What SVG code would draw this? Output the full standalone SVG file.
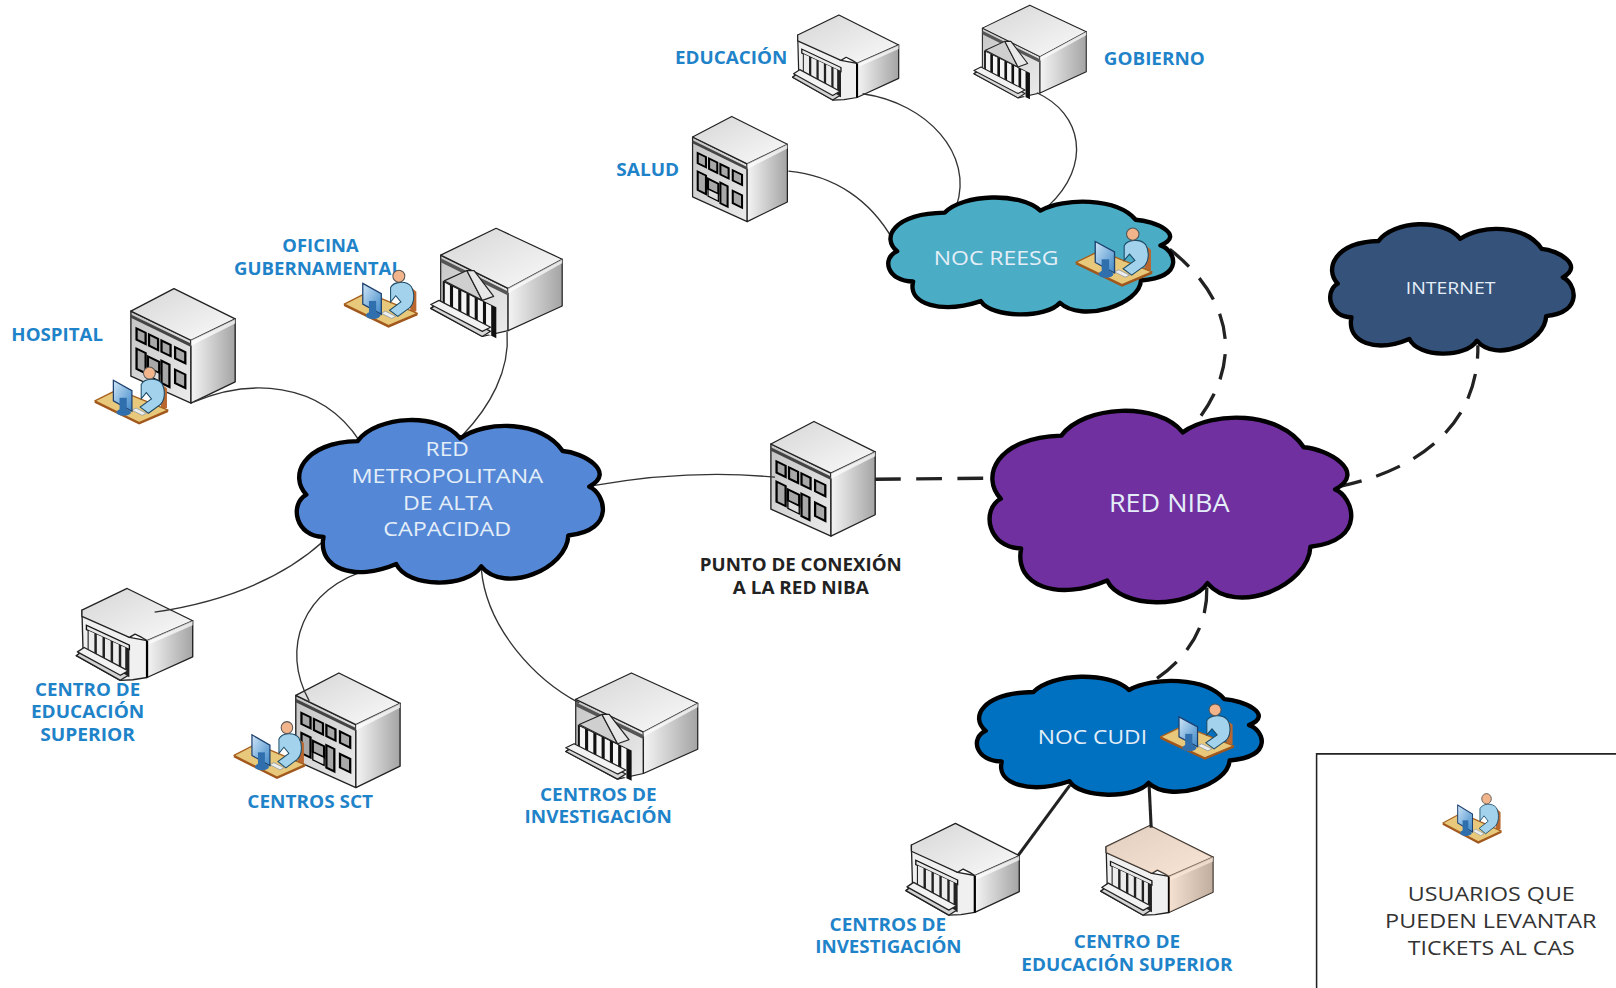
<svg xmlns="http://www.w3.org/2000/svg" width="1616" height="988" viewBox="0 0 1616 988">
<style>
.lbl{font-family:"Open Sans","Liberation Sans",sans-serif;font-weight:700;font-size:17px;fill:#1f83c9}
.blk{fill:#222}
.cl{font-family:"Open Sans","Liberation Sans",sans-serif;font-size:20px;fill:#e4eef8}
.leg{font-family:"Open Sans","Liberation Sans",sans-serif;font-size:20px;fill:#333}
.cloud{stroke:#000;stroke-width:4.4;stroke-linejoin:round}
.thin{fill:none;stroke:#333;stroke-width:1.3}
.dash{fill:none;stroke:#222;stroke-width:3.2;stroke-dasharray:25 15}
.solid{fill:none;stroke:#222;stroke-width:3}
.e{stroke:#222;stroke-width:1.2;stroke-linejoin:round}
</style>
<defs>
<linearGradient id="roof" x1="0" y1="0" x2="1" y2="1"><stop offset="0" stop-color="#d6d6d6"/><stop offset="1" stop-color="#fafafa"/></linearGradient>
<linearGradient id="side" x1="0" y1="0" x2="1" y2="0"><stop offset="0" stop-color="#f4f4f4"/><stop offset="1" stop-color="#a4a4a4"/></linearGradient>
<linearGradient id="front" x1="0" y1="0" x2="1" y2="1"><stop offset="0" stop-color="#c4c4c4"/><stop offset="1" stop-color="#ececec"/></linearGradient>
<linearGradient id="mon" x1="0" y1="0" x2="1" y2="1"><stop offset="0" stop-color="#cfe6f7"/><stop offset="1" stop-color="#3f88c8"/></linearGradient>
<path id="cloud" vector-effect="non-scaling-stroke" d="M20.9,13 C27,-3 47,-5 53.8,11.3 C62,0 80,0 86.6,19.1 C93,20 104,32 95.1,41.2 C100,45 104,68 88.4,71.3 C88,92 68,108 60.5,90.4 C56,104 37,104 33.3,89 C20,100 8,92 10,72.2 C1,72 -1,52 4.5,46.1 C-1,35 3,14 20.9,13 Z"/>
<g id="office">
<polygon class="e" points="0,20 53,46 53,102 0,78" fill="url(#front)"/>
<polygon class="e" points="53,46 92,27 92,83 53,102" fill="url(#side)"/>
<polygon class="e" points="0,20 38,0 92,27 53,46" fill="url(#roof)"/>
<polygon points="53,46 92,27 92,31 53,51" fill="#fff" opacity=".7"/>
<g transform="matrix(1,.49,0,1,0,20)">
<rect x="0" y="3" width="53" height="3" fill="#444"/>
<g fill="#a8a8a8" stroke="#000" stroke-width="2">
<rect x="5" y="13" width="8" height="10"/><rect x="16" y="13" width="8" height="10"/><rect x="27" y="13" width="8" height="10"/><rect x="39" y="13" width="9" height="10"/>
<rect x="5" y="31" width="8" height="18"/><rect x="27" y="31" width="7" height="20"/><rect x="39" y="33" width="9" height="12"/>
<rect x="15" y="33" width="10" height="10"/>
</g>
<rect x="15" y="43" width="10" height="7" fill="#ddd" stroke="#000" stroke-width="1.2"/>
</g>
</g>
<g id="portico">
<polygon class="e" points="9.6,26 75,58.3 75,99.4 50,105 0,77.7 9.6,70" fill="url(#front)"/>
<polygon class="e" points="75,58.3 127.5,30 127.5,75.4 75,99.4" fill="url(#side)"/>
<polygon class="e" points="9.6,26 63.4,0 127.5,30 75,58.3" fill="url(#roof)"/>
<polygon points="75,58.3 127.5,30 127.5,34 75,63" fill="#fff" opacity=".7"/>
<g transform="matrix(1,.494,0,1,9.6,26)">
<rect x="0" y="3" width="65.4" height="4" fill="#555"/>
<rect x="2" y="24" width="52" height="30" fill="#111"/>
<g fill="#f4f4f4"><rect x="4" y="25" width="5" height="29"/><rect x="12" y="25" width="5" height="29"/><rect x="20" y="25" width="5" height="29"/><rect x="28" y="25" width="5" height="29"/><rect x="36" y="25" width="5" height="29"/><rect x="44" y="25" width="5" height="29"/></g>
</g>
<polygon class="e" points="13,51 35,41 50,70" fill="#cfcfcf"/>
<polygon class="e" points="35,41 42,41 61,66 50,70" fill="#e8e8e8"/>
<polygon class="e" points="0,77.7 50,105 58,100 8,73" fill="#d8d8d8"/>
<polygon class="e" points="0,74 50,100 58,96 8,70" fill="#f2f2f2"/>
</g>
<g id="wide">
<polygon class="e" points="47,44 62.6,46.8 62.6,80 50,82 39,82.5 0,60.4 6,56 5,19.4" fill="#f0f0f0"/>
<polygon class="e" points="62.6,46.8 103,29 103,61.4 62.6,80" fill="url(#side)"/>
<polygon class="e" points="5,19.4 45,0 103,29 62.6,46.8 58,44 52,41 47,44 5,25" fill="url(#roof)"/>
<polygon points="62.6,46.8 103,29 103,33 62.6,51" fill="#fff" opacity=".7"/>
<line x1="62.6" y1="47" x2="62.6" y2="80" stroke="#000" stroke-width="2"/>
<g transform="matrix(1,.47,0,1,9,33)">
<rect x="0" y="0" width="38" height="4" fill="#e8e8e8" stroke="#111" stroke-width="1.2"/>
<rect x="1" y="4" width="37" height="25" fill="#222"/>
<g fill="#ececec"><rect x="2" y="4" width="5" height="25"/><rect x="9.2" y="4" width="5" height="25"/><rect x="16.4" y="4" width="5" height="25"/><rect x="23.6" y="4" width="5" height="25"/><rect x="30.8" y="4" width="3.5" height="25"/></g>
</g>
<polygon class="e" points="0,60.4 39,82.5 46,78 6,56" fill="#d4d4d4"/>
<polygon class="e" points="1,57 39,78 46,74 7,53" fill="#f2f2f2"/>
</g>
<g id="user">
<polygon points="64,17 70,22 70,41 64,43" fill="#b9672e"/>
<polygon points="0,34 22,23 71,43 43,55" fill="#e8c97c" stroke="#a8601e" stroke-width="1.3" stroke-linejoin="round"/>
<polyline points="0,35 43,56 71,44" fill="none" stroke="#a0561c" stroke-width="1.8"/>
<path d="M45,18 C48,12 60,11 65,17 C69,24 68,34 63,38 L52,46 L44,40 L55,32 L50,26 L45,32 Z" fill="#a3d3ec" stroke="#1c4a66" stroke-width="1"/>
<circle cx="53" cy="7" r="5.8" fill="#f2b48a" stroke="#555" stroke-width="1"/>
<polygon points="40,41 50,46 46,48 36,43" fill="#eee" stroke="#789" stroke-width=".6"/>
<polygon points="18,14 36,24 36,44 18,34" fill="url(#mon)" stroke="#1c3f6e" stroke-width="1.2"/>
<ellipse cx="28" cy="45" rx="7" ry="3.5" fill="#2f6fae"/>
<path d="M24,31 h7 v14 h-7 z" fill="#2f6fae"/>
</g>
</defs>
<rect width="1616" height="988" fill="#fff"/>
<g transform="scale(1.0306)">
<g id="salud"><use href="#office" transform="translate(672,113)"/><text class="lbl" x="598" y="171" textLength="61" lengthAdjust="spacingAndGlyphs">SALUD</text></g>
<g id="educacion"><use href="#wide" transform="translate(769,14.6)"/><text class="lbl" x="655" y="62" textLength="109" lengthAdjust="spacingAndGlyphs">EDUCACIÓN</text></g>
<g id="gobierno"><use href="#portico" transform="translate(945,5) scale(.855,.857)"/><text class="lbl" x="1071" y="63" textLength="98" lengthAdjust="spacingAndGlyphs">GOBIERNO</text></g>
<g id="hospital"><use href="#office" transform="translate(127,280) scale(1.1,1.09)"/><use href="#user" transform="translate(92,355)"/><text class="lbl" x="11" y="331" textLength="89" lengthAdjust="spacingAndGlyphs">HOSPITAL</text></g>
<g id="oficina"><text class="lbl" x="274" y="245" textLength="74" lengthAdjust="spacingAndGlyphs">OFICINA</text><text class="lbl" x="227" y="267" textLength="163" lengthAdjust="spacingAndGlyphs">GUBERNAMENTAL</text><use href="#portico" transform="translate(418,221.5)"/><use href="#user" transform="translate(334,261)"/></g>
<g id="punto"><use href="#office" transform="translate(748,409) scale(1.1,1.09)"/><text class="lbl blk" x="679" y="554" textLength="196" lengthAdjust="spacingAndGlyphs">PUNTO DE CONEXIÓN</text><text class="lbl blk" x="711" y="576" textLength="132" lengthAdjust="spacingAndGlyphs">A LA RED NIBA</text></g>
<g id="centro-educacion"><use href="#wide" transform="translate(74,571) scale(1.097,1.08)"/><text class="lbl" x="34" y="675" textLength="102" lengthAdjust="spacingAndGlyphs">CENTRO DE</text><text class="lbl" x="30" y="697" textLength="110" lengthAdjust="spacingAndGlyphs">EDUCACIÓN</text><text class="lbl" x="39" y="719" textLength="92" lengthAdjust="spacingAndGlyphs">SUPERIOR</text></g>
<g id="centros-sct"><use href="#office" transform="translate(287,653) scale(1.1,1.09)"/><use href="#user" transform="translate(227,699) scale(.97,1)"/><text class="lbl" x="240" y="784" textLength="122" lengthAdjust="spacingAndGlyphs">CENTROS SCT</text></g>
<g id="centros-investigacion"><use href="#portico" transform="translate(549,653) scale(1.004,.981)"/><text class="lbl" x="524" y="777" textLength="113" lengthAdjust="spacingAndGlyphs">CENTROS DE</text><text class="lbl" x="509" y="799" textLength="143" lengthAdjust="spacingAndGlyphs">INVESTIGACIÓN</text></g>
<g id="centros-investigacion-2"><use href="#wide" transform="translate(879,799) scale(1.068,1.079)"/><text class="lbl" x="805" y="903" textLength="113" lengthAdjust="spacingAndGlyphs">CENTROS DE</text><text class="lbl" x="791" y="925" textLength="142" lengthAdjust="spacingAndGlyphs">INVESTIGACIÓN</text></g>
<g id="centro-educacion-superior"><use href="#wide" transform="translate(1068,801) scale(1.058,1.055)"/>
<g transform="translate(1068,801) scale(1.058,1.055)"><polygon points="5,19.4 45,0 103,29 103,61.4 62.6,80 62.6,46.8 52,41 47,44 5,25" fill="#f6bf96" opacity=".35"/></g>
<text class="lbl" x="1042" y="920" textLength="103" lengthAdjust="spacingAndGlyphs">CENTRO DE</text><text class="lbl" x="991" y="942" textLength="205" lengthAdjust="spacingAndGlyphs">EDUCACIÓN SUPERIOR</text></g>
<g id="connectors">
<path class="thin" d="M188,390 C240,368 310,368 349,428"/>
<path class="thin" d="M492,322 C495,360 475,395 449,422"/>
<path class="thin" d="M314,525 C270,565 210,585 150,594"/>
<path class="thin" d="M360,552 C293,570 272,630 300,680"/>
<path class="thin" d="M467,552 C472,610 520,660 562,682"/>
<path class="thin" d="M577,471 C640,460 700,458 752,463"/>
<path class="thin" d="M765,166 C810,170 845,195 866,232"/>
<path class="thin" d="M837,91 C900,100 945,150 928,200"/>
<path class="thin" d="M1006,90 C1050,110 1060,160 1017,200"/>
<path class="dash" d="M849,465 L962,464"/>
<path class="dash" d="M1135,242 C1190,285 1210,345 1162,408"/>
<path class="dash" style="stroke-dashoffset:12" d="M1434,335 C1435,410 1380,455 1300,472"/>
<path class="dash" d="M1171,570 C1172,610 1150,640 1120,660"/>
<path class="solid" d="M1038,762 L988,830"/>
<path class="solid" d="M1115,762 L1117,803"/>
</g>
<g id="red-metropolitana"><use href="#cloud" class="cloud" fill="#5488d6" transform="translate(283.6,407.6) scale(3.03,1.57)"/>
<text class="cl" x="413" y="442" textLength="42" lengthAdjust="spacingAndGlyphs">RED</text><text class="cl" x="341" y="468.500" textLength="186" lengthAdjust="spacingAndGlyphs">METROPOLITANA</text><text class="cl" x="391" y="494.500" textLength="87" lengthAdjust="spacingAndGlyphs">DE ALTA</text><text class="cl" x="372" y="520.500" textLength="124" lengthAdjust="spacingAndGlyphs">CAPACIDAD</text></g>
<g id="noc-reesg"><use href="#cloud" class="cloud" fill="#4aacc5" transform="translate(857.8,191.6) scale(2.82,1.13)"/><text class="cl" x="906" y="257" textLength="121" lengthAdjust="spacingAndGlyphs">NOC REESG</text><use href="#user" transform="translate(1044,220) scale(1.04,1.02)"/></g>
<g id="internet"><use href="#cloud" class="cloud" fill="#34527a" transform="translate(1287.2,217.6) scale(2.41,1.25)"/><text class="cl" style="font-size:16px" x="1364" y="285" textLength="87" lengthAdjust="spacingAndGlyphs">INTERNET</text></g>
<g id="red-niba"><use href="#cloud" class="cloud" fill="#7030a0" transform="translate(955,398.600) scale(3.58,1.85)"/><text class="cl" style="font-size:24px" x="1076" y="496.500" textLength="117" lengthAdjust="spacingAndGlyphs">RED NIBA</text></g>
<g id="noc-cudi"><use href="#cloud" class="cloud" fill="#0070c0" transform="translate(943.8,656.6) scale(2.82,1.14)"/><text class="cl" x="1007" y="722" textLength="106" lengthAdjust="spacingAndGlyphs">NOC CUDI</text><use href="#user" transform="translate(1126,682) scale(1,.97)"/></g>
<g id="leyenda"><path d="M1277.5,960 V731.5 H1570" fill="none" stroke="#222" stroke-width="1.5"/><use href="#user" transform="translate(1400,769) scale(.8,.87)"/>
<text class="leg" x="1366" y="874" textLength="162" lengthAdjust="spacingAndGlyphs">USUARIOS QUE</text><text class="leg" x="1344" y="900" textLength="205" lengthAdjust="spacingAndGlyphs">PUEDEN LEVANTAR</text><text class="leg" x="1366" y="926.500" textLength="162" lengthAdjust="spacingAndGlyphs">TICKETS AL CAS</text></g>
</g>
</svg>
